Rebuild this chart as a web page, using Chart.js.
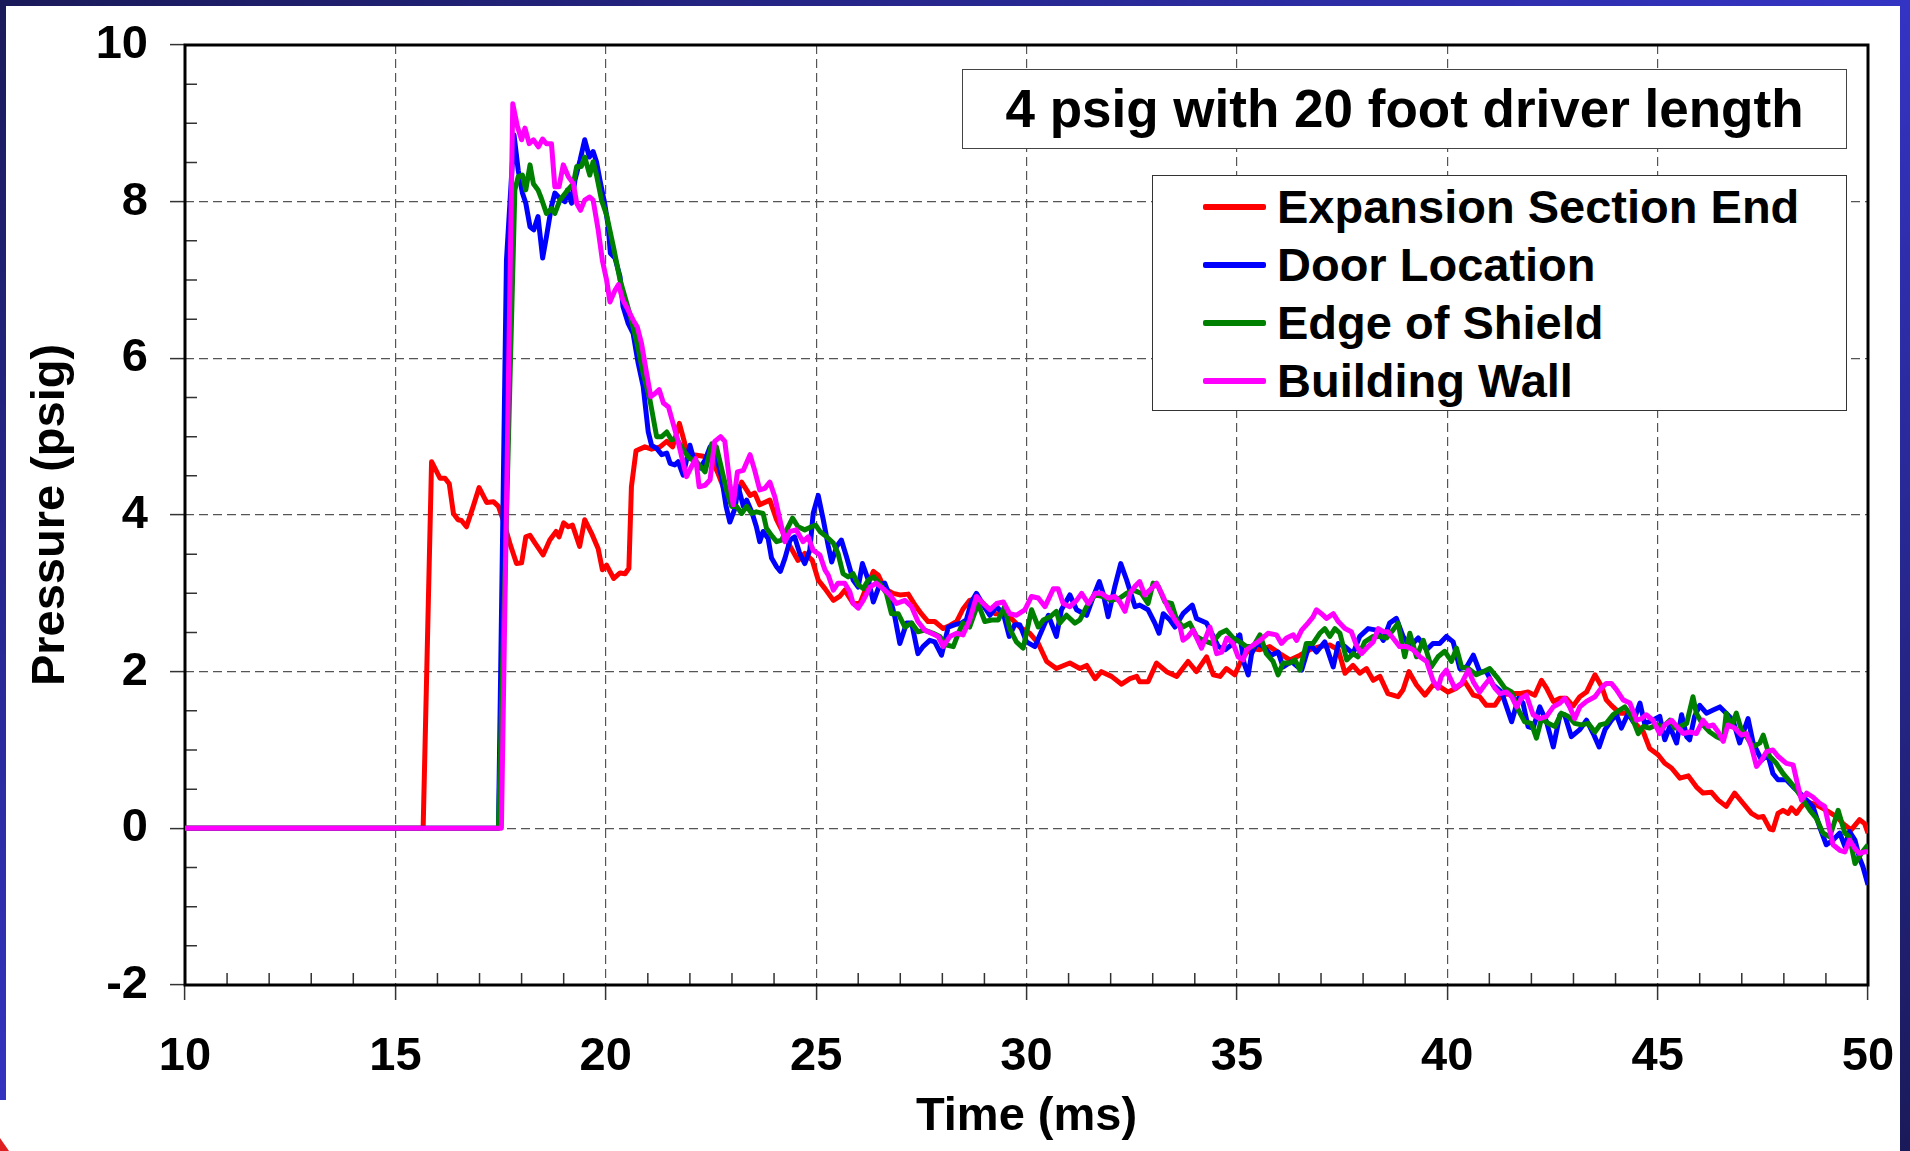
<!DOCTYPE html>
<html>
<head>
<meta charset="utf-8">
<script src="https://cdn.jsdelivr.net/npm/chart.js@4.4.1/dist/chart.umd.min.js"></script>
<style>
  html, body { margin: 0; padding: 0; }
  body {
    width: 1910px; height: 1151px; overflow: hidden; position: relative;
    background: linear-gradient(to bottom right, #1a1a5a, #3434c4 50%, #1a1a5a);
    font-family: 'Liberation Sans', Arial, sans-serif;
  }
  #panel { position: absolute; left: 6px; top: 6px; width: 1894px; height: 1145px; background: #fff; }
  #cornerWhite { position: absolute; left: 0; top: 1100px; width: 6px; height: 51px; background: #fff; }
  #cornerRed { position: absolute; left: 0; top: 1138px; width: 0; height: 0;
    border-left: 9px solid #e02020; border-top: 13px solid transparent; }
  #chart { position: absolute; left: 0; top: 0; }
  #titleBox {
    position: absolute; left: 962px; top: 69px; width: 883px; height: 78px;
    border: 1px solid #444; background: #fff; text-align: center;
    font-weight: bold; font-size: 53px; line-height: 78px; color: #000;
  }
  #legendBox {
    position: absolute; left: 1152px; top: 175px; width: 693px; height: 232px;
    border: 1px solid #333; background: #fff; padding-top: 2px; box-sizing: content-box;
  }
  .row { display: flex; align-items: center; height: 58px; }
  .swatch { margin-left: 50px; width: 63px; height: 6px; border-radius: 2px; }
  .label { margin-left: 11px; font-weight: bold; font-size: 47px; line-height: 58px; color: #000; white-space: nowrap; }
</style>
</head>
<body>
<div id="panel"></div>
<div id="cornerWhite"></div>
<div id="cornerRed"></div>
<canvas id="chart" width="1910" height="1151"></canvas>
<div id="titleBox">4 psig with 20 foot driver length</div>
<div id="legendBox"></div>
<script>
// pressure traces, [time (ms), pressure (psig)]
const expansionSectionEnd = [
  [10,0],[15.66,0],[15.86,4.68],[16.06,4.47],[16.18,4.47],[16.28,4.40],[16.38,4.02],[16.49,3.94],[16.57,3.93],[16.69,3.85],
  [16.85,4.11],[16.99,4.35],[17.17,4.16],[17.33,4.17],[17.45,4.11],[17.56,3.94],[17.72,3.64],[17.88,3.38],[18.00,3.39],[18.10,3.72],
  [18.20,3.74],[18.32,3.64],[18.51,3.49],[18.67,3.68],[18.82,3.79],[18.89,3.72],[19.00,3.90],[19.11,3.85],[19.21,3.87],[19.38,3.60],
  [19.50,3.94],[19.66,3.77],[19.82,3.57],[19.92,3.30],[20.02,3.36],[20.19,3.19],[20.34,3.26],[20.46,3.25],[20.55,3.32],[20.61,4.36],
  [20.72,4.82],[20.93,4.87],[21.09,4.84],[21.29,4.87],[21.45,4.94],[21.59,4.87],[21.75,5.17],[21.92,4.83],[22.08,4.77],[22.32,4.75],
  [22.52,4.70],[22.67,4.53],[22.87,4.25],[23.07,4.19],[23.23,4.42],[23.43,4.25],[23.54,4.28],[23.66,4.13],[23.90,4.19],[24.06,3.94],
  [24.22,3.77],[24.38,3.60],[24.57,3.42],[24.73,3.51],[24.91,3.42],[25.05,3.17],[25.21,3.06],[25.41,2.91],[25.56,2.96],[25.68,3.04],
  [25.88,2.87],[26.04,2.87],[26.20,3.08],[26.36,3.28],[26.48,3.23],[26.63,3.06],[26.83,3.00],[26.99,2.98],[27.19,2.99],[27.35,2.85],
  [27.50,2.74],[27.66,2.64],[27.82,2.64],[28.02,2.55],[28.18,2.59],[28.34,2.64],[28.49,2.80],[28.65,2.91],[28.85,2.94],[29.05,2.83],
  [29.25,2.74],[29.45,2.74],[29.64,2.68],[29.84,2.57],[30.08,2.49],[30.28,2.36],[30.48,2.13],[30.71,2.04],[31.03,2.11],[31.27,2.04],
  [31.43,2.08],[31.63,1.91],[31.78,2.00],[32.02,1.94],[32.26,1.84],[32.46,1.91],[32.62,1.94],[32.69,1.87],[32.89,1.87],[33.09,2.11],
  [33.33,2.00],[33.57,1.94],[33.84,2.13],[34.04,2.00],[34.28,2.19],[34.44,1.96],[34.60,1.94],[34.75,2.04],[34.95,1.96],[35.11,2.15],
  [35.31,2.30],[35.55,2.28],[35.78,2.32],[36.02,2.23],[36.26,2.15],[36.50,2.21],[36.73,2.28],[36.97,2.32],[37.21,2.34],[37.41,2.28],
  [37.57,1.98],[37.76,2.08],[37.92,1.98],[38.08,2.04],[38.24,1.89],[38.40,1.94],[38.59,1.72],[38.83,1.68],[38.95,1.77],[39.09,2.00],
  [39.27,1.83],[39.47,1.70],[39.66,1.83],[39.82,1.81],[40.02,1.74],[40.22,1.79],[40.42,1.87],[40.62,1.70],[40.77,1.68],[40.93,1.57],
  [41.13,1.57],[41.29,1.70],[41.49,1.72],[41.72,1.72],[41.92,1.74],[42.08,1.70],[42.24,1.89],[42.36,1.79],[42.52,1.62],[42.68,1.66],
  [42.83,1.66],[42.99,1.56],[43.15,1.68],[43.31,1.74],[43.51,1.96],[43.67,1.81],[43.78,1.64],[43.90,1.57],[44.10,1.47],[44.30,1.47],
  [44.50,1.32],[44.66,1.23],[44.81,1.02],[45.01,0.94],[45.17,0.83],[45.33,0.77],[45.53,0.64],[45.73,0.67],[45.92,0.53],[46.08,0.45],
  [46.28,0.46],[46.44,0.36],[46.63,0.28],[46.83,0.45],[47.03,0.32],[47.23,0.19],[47.39,0.14],[47.51,0.15],[47.67,-0.01],[47.74,-0.02],
  [47.86,0.19],[47.98,0.23],[48.10,0.19],[48.18,0.26],[48.30,0.19],[48.42,0.28],[48.54,0.34],[48.77,0.30],[49.01,0.23],[49.25,0.15],
  [49.41,0.06],[49.60,-0.02],[49.80,0.11],[49.92,0.06],[50.00,-0.06]
];

const doorLocation = [
  [10,0],[17.45,0],[17.64,7.25],[17.82,8.85],[17.92,8.40],[18.02,8.11],[18.10,7.98],[18.20,7.68],[18.29,7.64],[18.39,7.81],
  [18.50,7.28],[18.59,7.55],[18.71,7.94],[18.79,8.11],[18.91,8.04],[19.03,8.00],[19.09,8.15],[19.19,7.98],[19.27,8.28],[19.39,8.53],
  [19.50,8.79],[19.61,8.57],[19.70,8.64],[19.78,8.51],[19.86,8.28],[19.98,7.96],[20.06,7.68],[20.11,7.34],[20.22,7.28],[20.34,7.04],
  [20.41,6.66],[20.53,6.45],[20.65,6.32],[20.77,5.94],[20.89,5.64],[21.01,5.06],[21.09,4.89],[21.21,4.85],[21.33,4.77],[21.45,4.79],
  [21.53,4.66],[21.64,4.64],[21.72,4.68],[21.84,4.51],[22.00,4.89],[22.12,4.66],[22.24,4.60],[22.36,4.70],[22.48,4.87],[22.59,4.83],
  [22.75,4.49],[22.86,4.11],[22.95,3.91],[23.07,4.08],[23.15,4.36],[23.27,4.11],[23.35,4.19],[23.47,4.04],[23.58,3.85],[23.66,3.66],
  [23.74,3.79],[23.86,3.70],[23.94,3.45],[24.06,3.34],[24.15,3.28],[24.26,3.45],[24.38,3.68],[24.49,3.72],[24.61,3.51],[24.73,3.38],
  [24.85,3.55],[24.93,4.02],[25.05,4.25],[25.17,3.94],[25.29,3.60],[25.37,3.40],[25.49,3.60],[25.60,3.68],[25.72,3.47],[25.88,3.17],
  [26.00,3.08],[26.10,3.38],[26.24,3.17],[26.36,2.89],[26.51,3.11],[26.63,3.13],[26.75,2.96],[26.87,2.70],[26.99,2.36],[27.15,2.62],
  [27.27,2.62],[27.42,2.23],[27.54,2.32],[27.70,2.40],[27.82,2.38],[27.98,2.21],[28.14,2.57],[28.30,2.60],[28.45,2.62],[28.57,2.66],
  [28.69,2.89],[28.81,3.00],[28.97,2.85],[29.13,2.72],[29.29,2.83],[29.45,2.74],[29.59,2.45],[29.72,2.60],[29.84,2.60],[30.00,2.38],
  [30.20,2.32],[30.40,2.57],[30.52,2.72],[30.71,2.45],[30.83,2.79],[31.03,2.98],[31.19,2.79],[31.43,2.72],[31.59,2.96],[31.73,3.15],
  [31.82,3.00],[31.94,2.70],[32.10,3.09],[32.24,3.38],[32.38,3.17],[32.58,2.83],[32.69,2.85],[32.89,2.79],[33.05,2.62],[33.15,2.49],
  [33.25,2.74],[33.41,2.66],[33.53,2.57],[33.72,2.74],[33.94,2.85],[34.04,2.68],[34.28,2.62],[34.44,2.45],[34.56,2.32],[34.72,2.28],
  [34.91,2.36],[35.07,2.47],[35.17,2.11],[35.27,1.96],[35.35,2.23],[35.47,2.36],[35.63,2.32],[35.82,2.21],[35.98,2.25],[36.10,2.06],
  [36.30,2.13],[36.54,2.02],[36.73,2.36],[36.89,2.25],[37.09,2.38],[37.29,2.06],[37.41,2.36],[37.57,2.32],[37.76,2.23],[37.92,2.45],
  [38.12,2.55],[38.32,2.53],[38.48,2.40],[38.63,2.62],[38.79,2.68],[38.95,2.45],[39.11,2.32],[39.31,2.43],[39.51,2.28],[39.66,2.36],
  [39.82,2.36],[39.98,2.45],[40.14,2.38],[40.30,2.04],[40.46,2.06],[40.62,2.21],[40.77,2.00],[40.93,2.00],[41.09,1.83],[41.29,1.74],
  [41.41,1.55],[41.53,1.36],[41.69,1.66],[41.80,1.60],[41.92,1.30],[42.04,1.28],[42.20,1.55],[42.36,1.36],[42.52,1.04],[42.68,1.45],
  [42.79,1.45],[42.95,1.17],[43.15,1.26],[43.31,1.38],[43.47,1.21],[43.61,1.04],[43.75,1.26],[43.90,1.38],[44.02,1.45],[44.14,1.28],
  [44.30,1.47],[44.42,1.36],[44.58,1.60],[44.69,1.34],[44.89,1.38],[45.05,1.43],[45.17,1.13],[45.29,1.30],[45.45,1.09],[45.57,1.45],
  [45.69,1.17],[45.76,1.13],[45.88,1.43],[46.00,1.57],[46.16,1.47],[46.32,1.51],[46.48,1.55],[46.63,1.47],[46.79,1.38],[46.95,1.09],
  [47.15,1.40],[47.27,1.09],[47.47,0.87],[47.62,0.94],[47.74,0.70],[47.86,0.62],[48.06,0.62],[48.22,0.53],[48.38,0.45],[48.54,0.36],
  [48.69,0.28],[48.85,0.02],[49.01,-0.21],[49.17,-0.15],[49.33,-0.06],[49.45,-0.23],[49.56,-0.04],[49.69,-0.15],[49.80,-0.38],[49.88,-0.49],
  [50.00,-0.72]
];

const edgeOfShield = [
  [10,0],[17.45,0],[17.84,8.15],[17.92,8.32],[18.02,8.34],[18.10,8.15],[18.20,8.47],[18.28,8.23],[18.39,8.15],[18.47,8.04],
  [18.59,7.85],[18.71,7.91],[18.79,7.85],[18.91,8.02],[19.07,8.13],[19.23,8.23],[19.31,8.45],[19.42,8.45],[19.50,8.57],[19.62,8.34],
  [19.70,8.51],[19.78,8.34],[19.90,8.02],[20.02,7.83],[20.18,7.43],[20.34,7.00],[20.57,6.57],[20.73,6.23],[20.89,5.81],[21.05,5.47],
  [21.21,5.00],[21.33,5.00],[21.45,5.06],[21.56,4.96],[21.68,4.98],[21.84,4.83],[22.00,4.72],[22.16,4.68],[22.36,4.55],[22.52,4.91],
  [22.63,4.87],[22.75,4.60],[22.87,4.32],[22.99,4.11],[23.11,4.11],[23.23,4.02],[23.35,4.11],[23.47,4.02],[23.58,4.04],[23.74,4.02],
  [23.82,3.83],[23.94,3.74],[24.06,3.66],[24.18,3.68],[24.30,3.81],[24.44,3.96],[24.57,3.85],[24.73,3.81],[24.89,3.85],[24.99,3.87],
  [25.09,3.79],[25.25,3.72],[25.41,3.64],[25.52,3.51],[25.64,3.25],[25.76,3.21],[25.88,3.25],[26.00,3.11],[26.12,3.06],[26.24,3.17],
  [26.36,3.21],[26.51,3.13],[26.67,3.00],[26.79,2.74],[26.95,2.74],[27.11,2.57],[27.27,2.62],[27.42,2.51],[27.58,2.53],[27.78,2.49],
  [27.94,2.45],[28.10,2.34],[28.26,2.32],[28.38,2.49],[28.49,2.62],[28.65,2.57],[28.85,2.87],[29.01,2.64],[29.17,2.66],[29.33,2.66],
  [29.48,2.83],[29.60,2.55],[29.76,2.38],[29.92,2.30],[30.12,2.79],[30.28,2.57],[30.40,2.66],[30.56,2.70],[30.71,2.77],[30.79,2.62],
  [30.95,2.72],[31.15,2.62],[31.27,2.66],[31.43,2.83],[31.63,2.98],[31.82,2.96],[32.02,2.91],[32.22,2.94],[32.38,3.00],[32.54,3.04],
  [32.73,3.00],[32.89,2.87],[33.01,3.13],[33.13,3.09],[33.29,2.89],[33.45,2.87],[33.57,2.66],[33.72,2.57],[33.88,2.62],[34.04,2.45],
  [34.20,2.40],[34.40,2.36],[34.60,2.49],[34.75,2.53],[34.91,2.43],[35.07,2.38],[35.23,2.32],[35.39,2.32],[35.55,2.47],[35.70,2.23],
  [35.86,2.13],[35.98,1.96],[36.10,2.11],[36.26,2.11],[36.38,2.15],[36.50,2.02],[36.65,2.36],[36.81,2.36],[36.97,2.49],[37.09,2.55],
  [37.21,2.45],[37.33,2.55],[37.45,2.49],[37.61,2.15],[37.76,2.23],[37.88,2.19],[38.04,2.38],[38.24,2.45],[38.40,2.45],[38.56,2.43],
  [38.71,2.53],[38.83,2.62],[38.99,2.19],[39.11,2.49],[39.27,2.19],[39.43,2.40],[39.62,2.06],[39.78,2.19],[39.94,2.26],[40.10,2.13],
  [40.22,2.30],[40.34,2.06],[40.50,2.04],[40.69,1.96],[40.85,2.00],[41.01,2.04],[41.21,1.91],[41.37,1.79],[41.53,1.74],[41.69,1.51],
  [41.84,1.36],[42.00,1.34],[42.12,1.15],[42.24,1.40],[42.40,1.34],[42.56,1.30],[42.71,1.47],[42.87,1.43],[43.03,1.34],[43.19,1.32],
  [43.35,1.34],[43.51,1.23],[43.63,1.32],[43.78,1.34],[43.94,1.45],[44.10,1.51],[44.22,1.55],[44.38,1.43],[44.54,1.21],[44.66,1.30],
  [44.81,1.28],[44.97,1.32],[45.13,1.30],[45.29,1.38],[45.41,1.28],[45.53,1.30],[45.69,1.34],[45.84,1.68],[45.92,1.47],[46.08,1.32],
  [46.24,1.23],[46.40,1.17],[46.56,1.13],[46.63,1.47],[46.75,1.30],[46.87,1.47],[46.99,1.26],[47.11,1.17],[47.27,1.04],[47.43,1.09],
  [47.51,1.19],[47.66,0.92],[47.82,0.83],[47.98,0.70],[48.14,0.60],[48.30,0.49],[48.46,0.36],[48.62,0.23],[48.77,0.13],[48.93,-0.06],
  [49.09,-0.11],[49.29,0.23],[49.45,-0.06],[49.56,-0.11],[49.69,-0.45],[49.84,-0.32],[50.00,-0.21]
];

const buildingWall = [
  [10,0],[17.52,0],[17.79,9.25],[17.90,8.96],[18.00,8.79],[18.08,8.94],[18.18,8.74],[18.28,8.79],[18.40,8.70],[18.50,8.80],
  [18.59,8.74],[18.71,8.74],[18.79,8.19],[18.89,8.19],[18.99,8.47],[19.11,8.32],[19.23,8.23],[19.31,7.98],[19.40,7.89],[19.50,8.02],
  [19.62,8.06],[19.70,8.02],[19.82,7.64],[19.92,7.25],[20.02,7.00],[20.10,6.72],[20.22,6.87],[20.30,6.94],[20.41,6.74],[20.53,6.62],
  [20.65,6.49],[20.75,6.40],[20.85,6.19],[20.97,5.81],[21.07,5.51],[21.17,5.55],[21.27,5.60],[21.37,5.43],[21.49,5.38],[21.60,5.17],
  [21.72,4.94],[21.84,4.66],[21.92,4.49],[22.04,4.62],[22.14,4.72],[22.22,4.36],[22.36,4.38],[22.48,4.45],[22.59,4.94],[22.73,5.00],
  [22.83,4.94],[22.95,4.40],[23.03,4.13],[23.13,4.55],[23.27,4.57],[23.43,4.77],[23.54,4.57],[23.66,4.32],[23.78,4.34],[23.90,4.42],
  [24.02,4.23],[24.14,3.94],[24.26,3.66],[24.38,3.79],[24.53,3.81],[24.69,3.66],[24.81,3.72],[24.93,3.55],[25.09,3.49],[25.21,3.30],
  [25.29,3.23],[25.41,3.04],[25.52,3.13],[25.68,3.13],[25.80,3.02],[25.88,2.87],[26.00,2.81],[26.12,2.91],[26.28,3.08],[26.43,3.13],
  [26.59,3.06],[26.75,2.98],[26.91,2.87],[27.11,2.91],[27.27,2.83],[27.42,2.64],[27.58,2.53],[27.74,2.49],[27.90,2.45],[28.02,2.32],
  [28.18,2.45],[28.34,2.49],[28.49,2.47],[28.65,2.66],[28.81,2.96],[28.97,2.87],[29.13,2.79],[29.29,2.87],[29.45,2.89],[29.60,2.74],
  [29.76,2.72],[29.96,2.79],[30.12,2.96],[30.28,2.94],[30.44,2.83],[30.64,3.06],[30.75,3.06],[30.87,2.87],[31.03,2.83],[31.19,2.91],
  [31.31,3.00],[31.47,2.87],[31.63,3.00],[31.78,3.00],[31.94,2.94],[32.10,2.96],[32.22,2.89],[32.34,2.77],[32.46,3.00],[32.58,3.09],
  [32.69,3.15],[32.81,2.98],[32.93,3.04],[33.09,3.13],[33.21,3.00],[33.37,2.81],[33.53,2.66],[33.65,2.57],[33.72,2.40],[33.84,2.45],
  [33.96,2.53],[34.16,2.30],[34.36,2.57],[34.52,2.23],[34.64,2.25],[34.76,2.43],[34.91,2.36],[35.03,2.19],[35.15,2.15],[35.23,2.28],
  [35.39,2.34],[35.55,2.40],[35.74,2.49],[35.94,2.47],[36.06,2.36],[36.18,2.43],[36.34,2.47],[36.42,2.40],[36.54,2.53],[36.69,2.62],
  [36.81,2.70],[36.89,2.79],[37.01,2.74],[37.13,2.68],[37.29,2.74],[37.41,2.64],[37.57,2.55],[37.72,2.51],[37.84,2.34],[37.96,2.23],
  [38.12,2.32],[38.24,2.38],[38.36,2.55],[38.48,2.51],[38.59,2.51],[38.71,2.43],[38.87,2.32],[39.03,2.32],[39.19,2.28],[39.35,2.19],
  [39.51,2.13],[39.66,1.89],[39.78,1.79],[39.86,1.94],[39.98,2.02],[40.18,1.79],[40.34,1.85],[40.50,2.02],[40.62,1.87],[40.77,1.74],
  [40.89,1.83],[41.01,1.91],[41.13,1.79],[41.25,1.72],[41.41,1.74],[41.53,1.68],[41.65,1.55],[41.76,1.66],[41.88,1.70],[42.04,1.45],
  [42.20,1.40],[42.36,1.43],[42.52,1.55],[42.68,1.60],[42.79,1.66],[42.91,1.55],[43.03,1.40],[43.15,1.55],[43.31,1.62],[43.51,1.68],
  [43.66,1.79],[43.78,1.85],[43.90,1.85],[44.02,1.77],[44.18,1.64],[44.34,1.60],[44.50,1.38],[44.62,1.40],[44.73,1.45],[44.89,1.38],
  [45.05,1.21],[45.17,1.32],[45.33,1.38],[45.49,1.28],[45.61,1.21],[45.76,1.23],[45.92,1.21],[46.08,1.38],[46.20,1.30],[46.32,1.32],
  [46.44,1.23],[46.56,1.11],[46.67,1.32],[46.83,1.28],[46.99,1.19],[47.11,1.21],[47.23,1.04],[47.35,0.79],[47.47,0.87],[47.59,0.98],
  [47.74,1.00],[47.86,0.92],[48.06,0.83],[48.22,0.81],[48.34,0.53],[48.42,0.36],[48.54,0.45],[48.69,0.40],[48.85,0.32],[48.97,0.28],
  [49.09,-0.02],[49.17,-0.21],[49.33,-0.28],[49.45,-0.30],[49.56,-0.15],[49.69,-0.26],[49.80,-0.32],[49.92,-0.30],[50.00,-0.30]
];

const seriesNames = ['Expansion Section End', 'Door Location', 'Edge of Shield', 'Building Wall'];
const seriesColors = ['#ff0000', '#0000ff', '#008000', '#ff00ff'];
const seriesData = [expansionSectionEnd, doorLocation, edgeOfShield, buildingWall];

const timeTicks = [10, 15, 20, 25, 30, 35, 40, 45, 50];
const pressureTicks = [-2, 0, 2, 4, 6, 8, 10];

// html legend (boxed, inside the plot like the original)
const legendBox = document.getElementById('legendBox');
seriesNames.forEach((name, i) => {
    const row = document.createElement('div');
    row.className = 'row';
    row.innerHTML = '<div class="swatch" style="background:' + seriesColors[i] + '"></div><div class="label">' + name + '</div>';
    legendBox.appendChild(row);
});

const tickFont = { family: "'Liberation Sans', Arial, sans-serif", size: 47, weight: 'bold' };
const titleFont = { family: "'Liberation Sans', Arial, sans-serif", size: 47, weight: 'bold' };

// keep the plot box where it is, label overflow must not push it
const noPad = s => { s.paddingTop = 0; s.paddingBottom = 0; s.paddingLeft = 0; s.paddingRight = 0; };

// minor ticks pointing inward + black frame round the plot
const framePlugin = {
    id: 'frame',
    beforeDatasetsDraw(chart) {
        const { ctx, chartArea: a, scales: { x, y } } = chart;
        ctx.save();
        ctx.strokeStyle = '#333';
        ctx.lineWidth = 1.5;
        ctx.beginPath();
        for (let t = 11; t < 50; t++) {
            if (t % 5 === 0) continue;
            const px = x.getPixelForValue(t);
            ctx.moveTo(px, a.bottom);
            ctx.lineTo(px, a.bottom - 12);
        }
        for (let v = -1.5; v < 10; v += 0.5) {
            if (v % 2 === 0) continue;
            const py = y.getPixelForValue(v);
            ctx.moveTo(a.left, py);
            ctx.lineTo(a.left + 12, py);
        }
        ctx.stroke();
        ctx.strokeStyle = '#000';
        ctx.lineWidth = 3;
        ctx.strokeRect(a.left, a.top, a.right - a.left, a.bottom - a.top);
        ctx.restore();
    }
};

const datasets = seriesData.map((pts, i) => ({
    label: seriesNames[i],
    data: pts.map(p => ({ x: p[0], y: p[1] })),
    borderColor: seriesColors[i],
    backgroundColor: seriesColors[i],
    borderWidth: 5,
    pointRadius: 0,
    tension: 0,
    fill: false,
    borderJoinStyle: 'round',
    order: seriesData.length - i
}));

new Chart(document.getElementById('chart').getContext('2d'), {
    type: 'line',
    data: { datasets: datasets },
    options: {
        responsive: false,
        animation: false,
        layout: { padding: { top: 45, right: 42, left: 0, bottom: 0 } },
        plugins: { legend: { display: false }, tooltip: { enabled: false } },
        scales: {
            x: {
                type: 'linear', min: 10, max: 50,
                afterBuildTicks: s => { s.ticks = timeTicks.map(v => ({ value: v })); },
                afterFit: s => { s.height = 166; noPad(s); },
                ticks: { font: tickFont, color: '#000', padding: 29, maxRotation: 0, autoSkip: false },
                grid: { color: '#555', lineWidth: 1.2, tickLength: 15, tickColor: '#333', tickWidth: 1.5 },
                border: { display: false, dash: [9, 5] },
                title: { display: true, text: 'Time (ms)', font: titleFont, color: '#000', padding: { top: 0, bottom: 6 } }
            },
            y: {
                type: 'linear', min: -2, max: 10,
                afterBuildTicks: s => { s.ticks = pressureTicks.map(v => ({ value: v })); },
                afterFit: s => { s.width = 185; noPad(s); },
                ticks: { font: tickFont, color: '#000', padding: 22, autoSkip: false },
                grid: { color: '#555', lineWidth: 1.2, tickLength: 15, tickColor: '#333', tickWidth: 1.5 },
                border: { display: false, dash: [9, 5] },
                title: { display: true, text: 'Pressure (psig)', font: titleFont, color: '#000', padding: { top: 23, bottom: 0 } }
            }
        }
    },
    plugins: [framePlugin]
});
</script>
</body>
</html>
